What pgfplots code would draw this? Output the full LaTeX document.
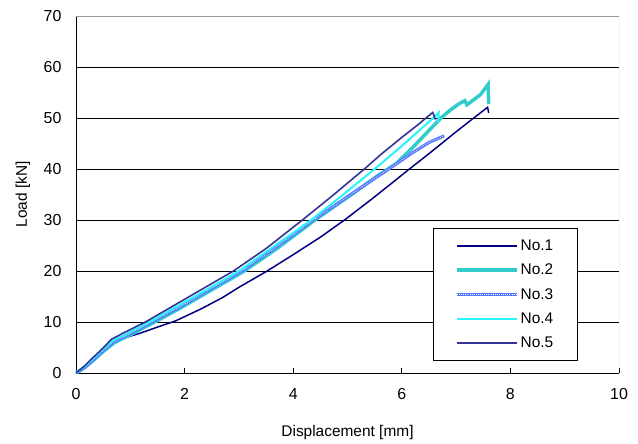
\documentclass[border=0pt]{standalone}
\usepackage{fontspec}
\setmainfont{Liberation Sans}
\usepackage{pgfplots}
\pgfplotsset{compat=1.18}
\definecolor{c1}{RGB}{0,0,128}
\definecolor{c2}{RGB}{51,204,204}
\definecolor{c3}{RGB}{85,120,255}
\definecolor{c4}{RGB}{40,245,250}
\definecolor{c5}{RGB}{51,51,153}
\begin{document}
\begin{tikzpicture}
\path (-76bp,-68bp) rectangle (562bp,373bp);
\begin{axis}[
 at={(0,0)}, anchor=south west,
 scale only axis, width=543bp, height=357bp,
 xmin=0, xmax=10, ymin=0, ymax=70,
 xtick={0,2,...,10}, ytick={0,10,...,70},
 axis x line*=bottom, axis y line*=left,
 axis line style={black, line width=0.9bp},
 every outer x axis line/.append style={-}, every outer y axis line/.append style={-},
 tick align=inside, major tick length=5bp,
 tick style={black, line width=0.8bp},
 ymajorgrids, grid style={black, line width=0.7bp},
 /pgf/number format/assume math mode=true,
 ticklabel style={font=\fontsize{16}{18}\selectfont},
 yticklabel style={xshift=-11bp},
 xticklabel style={yshift=-12bp},
 label style={font=\fontsize{15.5}{17}\selectfont},
 xlabel={Displacement [mm]}, ylabel={Load [kN]},
 xlabel style={at={(axis description cs:0.5,-0.179)}, anchor=base},
 ylabel style={at={(axis description cs:-0.0976,0.5)}, anchor=center},
 legend cell align=left,
 legend style={at={(rel axis cs:0.657,0.406)}, anchor=north west,
   draw=black, line width=0.8bp, fill=white,
   font=\fontsize{15.5}{17}\selectfont,
   inner xsep=22bp, inner ysep=9.5bp, row sep=8bp,
   nodes={inner sep=2bp}},
 legend image code/.code={\draw[#1] (0bp,0bp) -- (60bp,0bp);},
]
\addplot[c1, line width=1.5bp] coordinates {
(0,0) (0.15,1.2) (0.3,2.6) (0.45,4.0) (0.63,5.8) (0.9,6.9) (1.18,7.8) (1.5,9.0) (1.83,10.2) (2.29,12.5) (2.7,14.8) (3.0,16.8) (3.52,20) (4.0,23.2) (4.51,26.7) (4.97,30.2) (5.47,34.3) (5.8,37.1) (6.14,40) (6.5,43) (7.0,47.3) (7.3,49.8) (7.58,52.1) (7.6,51.0)};
\addlegendentry{No.1}
\addplot[c2, line width=3.5bp] coordinates {
(0,0) (0.15,1.0) (0.3,2.3) (0.5,4.2) (0.7,5.9) (1.0,7.5) (1.45,10) (1.9,12.6) (2.5,16.3) (3.1,20) (3.7,24.4) (4.4,30) (5.1,35.2) (5.6,39) (5.89,41) (6.2,44.2) (6.54,48) (6.73,50.1) (6.9,51.6) (7.04,52.7) (7.16,53.4) (7.2,52.6) (7.34,53.7) (7.45,54.6) (7.59,56.6) (7.6,52.7)};
\addlegendentry{No.2}
\addplot[c3, line width=3bp, postaction={draw, white, line width=0.7bp, dash pattern=on 0.7bp off 1.4bp}] coordinates {
(0,0) (0.15,1.0) (0.3,2.4) (0.5,4.4) (0.68,6.0) (0.95,7.5) (1.4,10) (1.85,12.6) (2.45,16.3) (3.05,20) (3.65,24.4) (4.37,30) (5.06,35.0) (5.62,39.0) (5.83,40.5) (6.2,43.2) (6.5,45.2) (6.78,46.5)};
\addlegendentry{No.3}
\addplot[c4, line width=2bp] coordinates {
(0,0) (0.15,1.2) (0.3,2.7) (0.5,4.7) (0.67,6.3) (0.95,7.8) (1.35,10) (1.8,12.7) (2.4,16.3) (3.0,20) (3.6,24.5) (4.33,30) (4.9,34.8) (5.5,40) (5.62,41.1) (6.0,44.5) (6.4,48.3) (6.62,50.4) (6.68,51.1) (6.67,49.2)};
\addlegendentry{No.4}
\addplot[c5, line width=1.6bp] coordinates {
(0,0) (0.15,1.3) (0.3,2.9) (0.5,4.9) (0.65,6.6) (0.9,8.0) (1.28,10) (1.7,12.6) (2.3,16.3) (2.9,20) (3.5,24.4) (4.17,30) (4.75,35) (5.31,40) (5.62,42.9) (6.0,46.2) (6.3,48.7) (6.57,51.1) (6.62,49.7)};
\addlegendentry{No.5}
\draw[gray!80, line width=1bp] (rel axis cs:0,1) -- (rel axis cs:1,1) -- (rel axis cs:1,0);
\end{axis}
\end{tikzpicture}
\end{document}
